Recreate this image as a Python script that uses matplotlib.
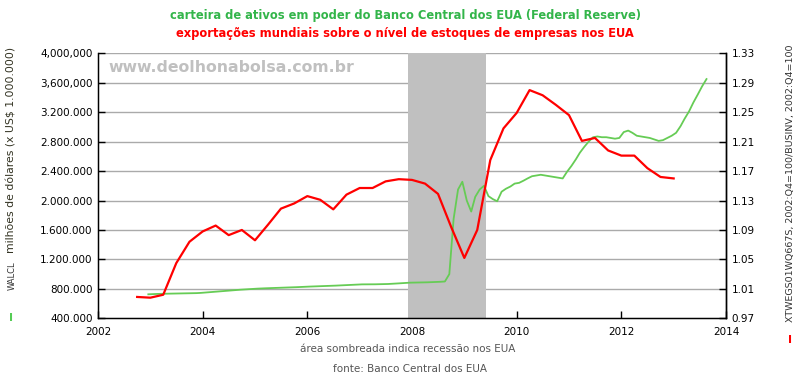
import matplotlib
matplotlib.use("Agg")
import matplotlib.pyplot as plt
import numpy as np
import pandas as pd

# ---------------- data ----------------
# WALCL monthly readings (millions of US$), from Dec 2002 to Aug 2013
walcl_start = "2002-12-01"
walcl_values = [
    726000,
    729000, 731000, 733000, 734000, 735000, 736000, 737000, 738000, 739000, 740000, 742000, 745000,
    750000, 755000, 760000, 765000, 770000, 775000, 779000, 783000, 788000, 792000, 796000, 800000,
    803000, 806000, 808000, 810000, 812000, 815000, 817000, 819000, 821000, 823000, 826000, 829000,
    831000, 833000, 835000, 837000, 839000, 841000, 844000, 847000, 850000, 853000, 856000, 859000,
    861000, 861000, 862000, 862000, 863000, 864000, 866000, 869000, 873000, 877000, 881000, 884000,
    885000, 886000, 887000, 889000, 891000, 893000, 896000, 900000, 1000000, 1750000, 2150000, 2255000,
    2000000, 1850000, 2050000, 2150000, 2200000, 2060000, 2020000, 1990000, 2120000, 2160000, 2190000, 2230000,
    2240000, 2270000, 2300000, 2330000, 2340000, 2350000, 2340000, 2330000, 2320000, 2310000, 2300000, 2390000,
    2470000, 2560000, 2650000, 2730000, 2800000, 2860000, 2870000, 2860000, 2860000, 2850000, 2840000, 2850000,
    2930000, 2950000, 2920000, 2880000, 2870000, 2860000, 2850000, 2830000, 2810000, 2820000, 2850000, 2880000,
    2920000, 3010000, 3110000, 3210000, 3330000, 3440000, 3550000, 3650000,
]

# exports / business inventories ratio, quarterly from 2002 Q4 to 2013 Q1
ratio_start = "2002-10-01"
ratio_values = [
    0.999, 0.998, 1.002, 1.045, 1.074, 1.088, 1.096, 1.083, 1.090, 1.076,
    1.097, 1.119, 1.126, 1.136, 1.131, 1.118, 1.138, 1.147, 1.147, 1.156,
    1.159, 1.158, 1.153, 1.139, 1.094, 1.052, 1.090, 1.185, 1.228, 1.249,
    1.280, 1.273, 1.260, 1.246, 1.211, 1.215, 1.198, 1.191, 1.191, 1.174,
    1.162, 1.160,
]

recession_start = "2007-12-01"
recession_end = "2009-06-01"

left_ticks = [400000, 800000, 1200000, 1600000, 2000000, 2400000, 2800000, 3200000, 3600000, 4000000]
left_tick_labels = ["400.000", "800.000", "1.200.000", "1.600.000", "2.000.000", "2.400.000",
                    "2.800.000", "3.200.000", "3,600,000", "4,000,000"]
right_ticks = [0.97, 1.01, 1.05, 1.09, 1.13, 1.17, 1.21, 1.25, 1.29, 1.33]
x_ticks = [2002, 2004, 2006, 2008, 2010, 2012, 2014]


def decimal_year(dates):
    dates = pd.DatetimeIndex(dates)
    days = np.where(dates.is_leap_year, 366.0, 365.0)
    return dates.year + (dates.dayofyear - 1) / days


walcl_dates = pd.date_range(walcl_start, periods=len(walcl_values), freq="MS") + pd.Timedelta(days=17)
ratio_dates = pd.date_range(ratio_start, periods=len(ratio_values), freq="QS")
wx = decimal_year(walcl_dates)
rx = decimal_year(ratio_dates)
rec = decimal_year([recession_start, recession_end])

# ---------------- figure ----------------
W, H = 800, 380
fig = plt.figure(figsize=(W / 100, H / 100), dpi=100)
ax = fig.add_axes([98 / W, 1 - 318.3 / H, (726 - 98) / W, (318.3 - 53.3) / H])

grid_c = "#aaaaaa"
ax.set_xlim(2002, 2014)
ax.set_ylim(400000, 4000000)
for t in left_ticks[1:]:
    ax.axhline(t, color=grid_c, lw=1.0, zorder=1)
ax.axvspan(rec[0], rec[1], color="#c0c0c0", lw=0, zorder=2)

ax.plot(wx, walcl_values, color="#66cc55", lw=1.3, zorder=3)

ax.set_yticks(left_ticks)
ax.set_yticklabels(left_tick_labels)
ax.set_xticks(x_ticks)
ax.set_xticklabels([str(t) for t in x_ticks])
ax.tick_params(axis="both", direction="in", length=5, width=1, colors="black", labelsize=7.5, pad=4)
ax.tick_params(axis="x", pad=6)
ax.spines["top"].set_visible(False)
for s in ["left", "right", "bottom"]:
    ax.spines[s].set_linewidth(1.0)

ax2 = ax.twinx()
ax2.set_ylim(0.97, 1.33)
ax2.plot(rx, ratio_values, color="#ff0000", lw=1.6, zorder=4)
ax2.set_yticks(right_ticks)
ax2.set_yticklabels([f"{t:.2f}" for t in right_ticks])
ax2.tick_params(axis="y", direction="in", length=5, width=1, labelsize=7.5, pad=4)
ax2.spines["top"].set_visible(False)
ax2.spines["right"].set_linewidth(1.0)

# watermark
ax.text(108 / W, 1 - 68 / H, "www.deolhonabolsa.com.br", transform=fig.transFigure,
        fontsize=11.3, fontweight="heavy", color="#c0c0c0", va="center", ha="left", zorder=5)


def ft(x, y, s, **kw):
    fig.text(x / W, 1 - y / H, s, **kw)


ft(405, 15, "carteira de ativos em poder do Banco Central dos EUA (Federal Reserve)",
   ha="center", va="center", fontsize=8.3, fontweight="bold", color="#33b54a")
ft(405, 33, "exportações mundiais sobre o nível de estoques de empresas nos EUA",
   ha="center", va="center", fontsize=8.3, fontweight="bold", color="#ff0000")

ft(12, 150, "milhões de dólares (x US$ 1.000.000)", rotation=90, ha="center", va="center",
   fontsize=7.8, color="#333322")
ft(12, 276, "WALCL", rotation=90, ha="center", va="center", fontsize=6, color="#333333")
ft(11, 318, "I", ha="center", va="center", fontsize=8, fontweight="bold", color="#55cc55")

ft(790, 183, "XTWEGS01WQ667S, 2002:Q4=100/BUSINV, 2002:Q4=100", rotation=90, ha="center",
   va="center", fontsize=6.8, color="#333333")
ft(790, 340, "I", ha="center", va="center", fontsize=8, fontweight="bold", color="#ff0000")

ft(408, 349, "área sombreada indica recessão nos EUA", ha="center", va="center",
   fontsize=7.5, color="#555555")
ft(410, 369, "fonte: Banco Central dos EUA", ha="center", va="center",
   fontsize=7.5, color="#555555")

fig.savefig("out.png", dpi=100)
